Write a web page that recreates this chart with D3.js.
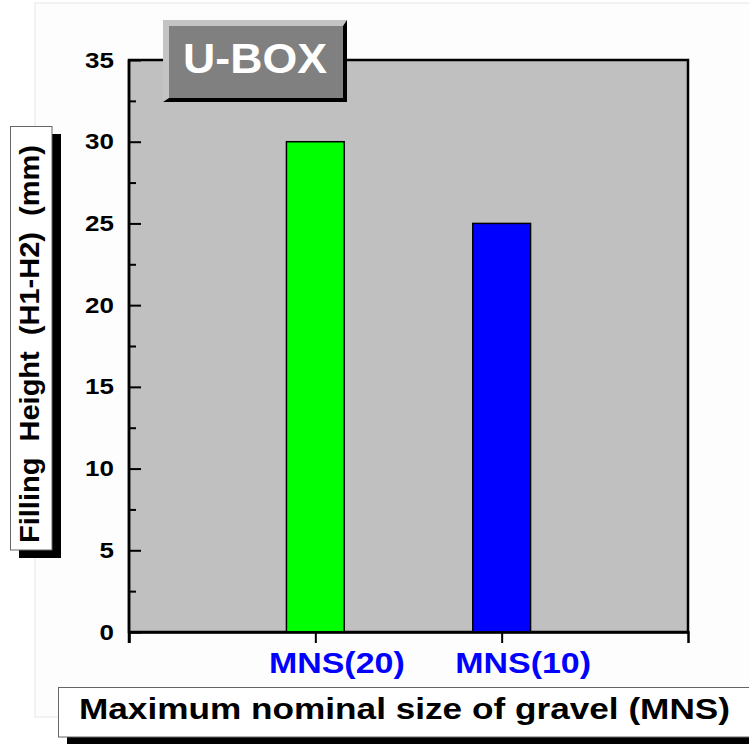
<!DOCTYPE html>
<html>
<head>
<meta charset="utf-8">
<script src="https://cdn.jsdelivr.net/npm/d3@7"></script>
<style>
  body { margin: 0; background: #fff; }
  text { font-family: "Liberation Sans", Arial, sans-serif; font-weight: bold; }
</style>
</head>
<body>
<div id="chart"></div>
<script>
// data
var categories = ["MNS(20)", "MNS(10)"];
var heights = [30, 25];
var barColors = ["#00ff00", "#0000ff"];
var yTicks = [0, 5, 10, 15, 20, 25, 30, 35];
var yMinorTicks = [2.5, 7.5, 12.5, 17.5, 22.5, 27.5, 32.5];

var svgWidth = 749;
var svgHeight = 744;

// plot box (window.top is reserved, so no plain "top")
var plot = { left: 129, right: 688, top: 60, bottom: 632 };

var svg = d3.select("#chart")
  .append("svg")
  .attr("width", svgWidth)
  .attr("height", svgHeight);

// stretch text horizontally like the original export
function stretch(sel, k) {
  sel.each(function() {
    var w = this.getComputedTextLength();
    d3.select(this)
      .attr("textLength", w * k)
      .attr("lengthAdjust", "spacingAndGlyphs");
  });
}

// faint page frame
svg.append("rect")
  .attr("x", 35).attr("y", 3)
  .attr("width", 730).attr("height", 714)
  .attr("fill", "#fdfdfd")
  .attr("stroke", "#e6e6e6");

var x = d3.scalePoint()
  .domain(categories)
  .range([plot.left, plot.right])
  .padding(1);

var y = d3.scaleLinear()
  .domain([0, 35])
  .range([plot.bottom, plot.top]);

// plot background + frame
svg.append("rect")
  .attr("x", plot.left).attr("y", plot.top)
  .attr("width", plot.right - plot.left).attr("height", plot.bottom - plot.top)
  .attr("fill", "#c0c0c0")
  .attr("stroke", "#000")
  .attr("stroke-width", 2.5);

// bars
var barW = x.step() * 0.31;
svg.selectAll(".bar")
  .data(heights)
  .enter()
  .append("rect")
  .attr("class", "bar")
  .attr("x", (d, i) => x(categories[i]) - barW / 2)
  .attr("y", d => y(d))
  .attr("width", barW)
  .attr("height", d => y(0) - y(d))
  .attr("fill", (d, i) => barColors[i])
  .attr("stroke", "#000")
  .attr("stroke-width", 1.5);

// y axis, ticks pointing inward
var yAxis = svg.append("g")
  .attr("transform", `translate(${plot.left},0)`)
  .call(d3.axisLeft(y).tickValues(yTicks).tickSize(-12).tickSizeOuter(0).tickPadding(15));
yAxis.select(".domain").remove();
yAxis.selectAll("line").attr("stroke", "#000").attr("stroke-width", 2);
yAxis.selectAll("text")
  .attr("font-size", 22)
  .attr("fill", "#000")
  .attr("x", -15)
  .call(stretch, 1.18);

var yMinor = svg.append("g")
  .attr("transform", `translate(${plot.left},0)`)
  .call(d3.axisLeft(y).tickValues(yMinorTicks).tickSize(-7).tickFormat(""));
yMinor.select(".domain").remove();
yMinor.selectAll("line").attr("stroke", "#000").attr("stroke-width", 2);

// left axis line, running down to the end tick
svg.append("line")
  .attr("x1", plot.left).attr("x2", plot.left)
  .attr("y1", plot.top).attr("y2", plot.bottom + 11)
  .attr("stroke", "#000").attr("stroke-width", 2.5);

// x axis, ticks pointing outward
var xAxis = svg.append("g")
  .attr("transform", `translate(0,${plot.bottom})`)
  .call(d3.axisBottom(x).tickSize(11).tickSizeOuter(11).tickFormat(""));
xAxis.select(".domain").attr("stroke", "#000").attr("stroke-width", 2.5).attr("fill", "none");
xAxis.selectAll("line").attr("stroke", "#000").attr("stroke-width", 2);

svg.selectAll(".xlabel")
  .data(categories)
  .enter()
  .append("text")
  .attr("class", "xlabel")
  .attr("x", d => x(d) + 21.5)
  .attr("y", 673)
  .attr("text-anchor", "middle")
  .attr("font-size", 29)
  .attr("fill", "#0000ff")
  .text(d => d)
  .call(stretch, 1.17);

// y title box with shadow
svg.append("rect")
  .attr("x", 19).attr("y", 134).attr("width", 42).attr("height", 424)
  .attr("fill", "#000");
svg.append("rect")
  .attr("x", 10.5).attr("y", 126.5).attr("width", 41.5).attr("height", 423.5)
  .attr("fill", "#fff").attr("stroke", "#666").attr("stroke-width", 1);
svg.append("text")
  .attr("transform", "translate(38.5,344) rotate(-90)")
  .attr("text-anchor", "middle")
  .attr("font-size", 28)
  .attr("fill", "#000")
  .attr("xml:space", "preserve")
  .style("white-space", "pre")
  .text("Filling  Height  (H1-H2)  (mm)")
  .attr("textLength", 398)
  .attr("lengthAdjust", "spacingAndGlyphs");

// x title box with shadow
svg.append("rect")
  .attr("x", 67).attr("y", 695).attr("width", 700).attr("height", 60)
  .attr("fill", "#000");
svg.append("rect")
  .attr("x", 58.5).attr("y", 687.5).attr("width", 700).attr("height", 49.5)
  .attr("fill", "#fff").attr("stroke", "#666").attr("stroke-width", 1);
svg.append("text")
  .attr("x", 79)
  .attr("y", 719)
  .attr("font-size", 29)
  .attr("fill", "#000")
  .text("Maximum nominal size of gravel (MNS)")
  .attr("textLength", 651)
  .attr("lengthAdjust", "spacingAndGlyphs");

// bevelled U-BOX label
var bx0 = 163, bx1 = 347, by0 = 20, by1 = 102;
svg.append("rect")
  .attr("x", bx0).attr("y", by0).attr("width", bx1 - bx0).attr("height", by1 - by0)
  .attr("fill", "#c4c4c4");
svg.append("polygon")
  .attr("points", [[bx1, by0], [bx1, by1], [bx0, by1], [bx0 + 6, by1 - 4], [bx1 - 4, by1 - 4], [bx1 - 4, by0 + 6]].join(" "))
  .attr("fill", "#000");
svg.append("rect")
  .attr("x", bx0 + 6).attr("y", by0 + 6).attr("width", bx1 - bx0 - 10).attr("height", by1 - by0 - 10)
  .attr("fill", "#808080");
svg.append("text")
  .attr("x", 183)
  .attr("y", 73)
  .attr("font-size", 42)
  .attr("fill", "#fff")
  .text("U-BOX")
  .attr("textLength", 144)
  .attr("lengthAdjust", "spacingAndGlyphs");
</script>
</body>
</html>
